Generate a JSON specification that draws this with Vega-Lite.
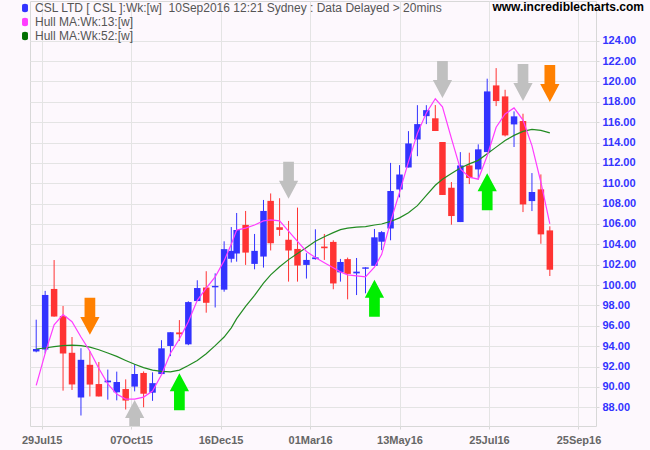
{
  "$schema": "https://vega.github.io/schema/vega-lite/v6.json",
  "width": 566,
  "height": 425,
  "autosize": "none",
  "padding": {"left": 30, "top": 1, "right": 54, "bottom": 24},
  "background": "#fdf8fd",
  "config": {"view": {"stroke": "#d8d8d8"}, "font": "Liberation Sans", "axis": {"labelOverlap": false}, "axisY": {"labelOverlap": false}},
  "title": {"text": "www.incrediblecharts.com", "anchor": "end", "frame": "group", "orient": "top", "offset": -14, "baseline": "bottom", "dx": 48, "dy": 11, "fontSize": 12, "fontWeight": "bold", "color": "#000000", "font": "Liberation Sans"},
  "datasets": {
    "bars": [
      {"t": -3, "o": 93.48, "h": 96.6, "l": 93.4, "c": 93.72, "a": 90.15, "b": 93.72},
      {"t": 2, "o": 93.67, "h": 99.43, "l": 93.3, "c": 99.03, "a": 93.3, "b": 93.82},
      {"t": 7, "o": 99.62, "h": 102.46, "l": 96.9, "c": 96.91, "a": 96.1, "b": 93.95},
      {"t": 12, "o": 96.95, "h": 97.95, "l": 89.63, "c": 93.28, "a": 97.1, "b": 94.05},
      {"t": 17, "o": 93.35, "h": 94.9, "l": 89.7, "c": 90.24, "a": 96.4, "b": 94.1},
      {"t": 22, "o": 88.96, "h": 93.8, "l": 87.19, "c": 92.66, "a": 94.9, "b": 94.05},
      {"t": 27, "o": 92.17, "h": 93.5, "l": 89.06, "c": 90.23, "a": 93.5, "b": 93.9},
      {"t": 32, "o": 90.28, "h": 92.45, "l": 89.06, "c": 89.06, "a": 91.8, "b": 93.65},
      {"t": 37, "o": 90.45, "h": 91.7, "l": 88.75, "c": 90.62, "a": 90.3, "b": 93.33},
      {"t": 42, "o": 89.47, "h": 91.5, "l": 88.68, "c": 90.48, "a": 89.3, "b": 93.0},
      {"t": 47, "o": 89.79, "h": 90.74, "l": 87.78, "c": 88.66, "a": 88.8, "b": 92.6},
      {"t": 52, "o": 90.03, "h": 92.22, "l": 89.56, "c": 91.27, "a": 88.8, "b": 92.22},
      {"t": 57, "o": 91.37, "h": 91.52, "l": 88.0, "c": 89.33, "a": 89.0, "b": 91.9},
      {"t": 62, "o": 89.43, "h": 91.43, "l": 88.63, "c": 90.37, "a": 89.6, "b": 91.65},
      {"t": 67, "o": 91.26, "h": 94.59, "l": 91.26, "c": 93.79, "a": 91.2, "b": 91.52},
      {"t": 72, "o": 94.02, "h": 95.37, "l": 93.02, "c": 95.37, "a": 93.3, "b": 91.47},
      {"t": 77, "o": 95.35, "h": 96.56, "l": 94.52, "c": 95.17, "a": 94.7, "b": 91.65},
      {"t": 82, "o": 94.18, "h": 98.41, "l": 94.1, "c": 98.33, "a": 96.4, "b": 92.1},
      {"t": 87, "o": 98.43, "h": 100.47, "l": 98.43, "c": 99.71, "a": 98.5, "b": 92.6},
      {"t": 92, "o": 99.76, "h": 101.36, "l": 97.29, "c": 98.26, "a": 99.7, "b": 93.25},
      {"t": 97, "o": 99.78, "h": 101.15, "l": 97.8, "c": 99.92, "a": 100.8, "b": 94.05},
      {"t": 102, "o": 99.55, "h": 104.3, "l": 99.35, "c": 103.53, "a": 102.4, "b": 94.9},
      {"t": 106, "o": 102.58, "h": 105.7, "l": 102.22, "c": 103.36, "a": 104.0, "b": 95.8},
      {"t": 109, "o": 103.1, "h": 107.08, "l": 102.3, "c": 105.41, "a": 105.4, "b": 96.7},
      {"t": 114, "o": 105.91, "h": 107.28, "l": 101.98, "c": 103.19, "a": 105.6, "b": 97.9},
      {"t": 119, "o": 102.08, "h": 105.02, "l": 101.55, "c": 103.36, "a": 105.9, "b": 99.0},
      {"t": 124, "o": 102.8, "h": 108.36, "l": 101.72, "c": 107.28, "a": 106.3, "b": 100.2},
      {"t": 128, "o": 108.27, "h": 109.0, "l": 103.4, "c": 104.11, "a": 106.4, "b": 101.0},
      {"t": 133, "o": 105.68, "h": 108.53, "l": 104.83, "c": 105.42, "a": 106.3, "b": 101.8},
      {"t": 138, "o": 104.44, "h": 106.3, "l": 100.34, "c": 103.39, "a": 105.3, "b": 102.5},
      {"t": 143, "o": 103.55, "h": 107.61, "l": 100.34, "c": 101.92, "a": 104.3, "b": 103.1},
      {"t": 148, "o": 101.98, "h": 103.13, "l": 100.64, "c": 102.47, "a": 103.3, "b": 103.7},
      {"t": 153, "o": 102.55, "h": 105.48, "l": 102.5, "c": 102.72, "a": 102.7, "b": 104.3},
      {"t": 158, "o": 103.78, "h": 105.02, "l": 102.47, "c": 103.62, "a": 102.2, "b": 104.75},
      {"t": 163, "o": 104.24, "h": 104.4, "l": 99.59, "c": 100.16, "a": 101.7, "b": 105.15},
      {"t": 167, "o": 101.25, "h": 102.57, "l": 100.34, "c": 102.27, "a": 101.3, "b": 105.45},
      {"t": 171, "o": 102.55, "h": 102.7, "l": 98.6, "c": 101.1, "a": 101.0, "b": 105.6},
      {"t": 176, "o": 101.15, "h": 102.66, "l": 99.02, "c": 101.32, "a": 100.9, "b": 105.7},
      {"t": 181, "o": 101.6, "h": 101.75, "l": 99.19, "c": 101.74, "a": 100.8, "b": 105.75},
      {"t": 186, "o": 101.89, "h": 105.51, "l": 101.89, "c": 104.69, "a": 101.75, "b": 105.9},
      {"t": 190, "o": 104.26, "h": 105.3, "l": 103.43, "c": 105.2, "a": 103.0, "b": 106.0},
      {"t": 195, "o": 105.56, "h": 112.0, "l": 104.4, "c": 109.24, "a": 106.2, "b": 106.25},
      {"t": 200, "o": 109.39, "h": 111.78, "l": 108.61, "c": 110.86, "a": 109.1, "b": 106.6},
      {"t": 205, "o": 111.55, "h": 115.12, "l": 111.55, "c": 113.91, "a": 112.1, "b": 107.1},
      {"t": 210, "o": 114.3, "h": 117.67, "l": 112.66, "c": 115.81, "a": 114.9, "b": 107.8},
      {"t": 215, "o": 116.59, "h": 117.67, "l": 115.81, "c": 117.18, "a": 116.9, "b": 108.8},
      {"t": 220, "o": 116.38, "h": 117.68, "l": 115.13, "c": 115.13, "a": 118.3, "b": 109.8},
      {"t": 224, "o": 114.05, "h": 114.05, "l": 108.85, "c": 108.85, "a": 117.5, "b": 110.4},
      {"t": 229, "o": 109.56, "h": 110.12, "l": 105.93, "c": 106.78, "a": 114.4, "b": 110.95},
      {"t": 234, "o": 106.19, "h": 113.06, "l": 106.19, "c": 111.75, "a": 111.4, "b": 111.5},
      {"t": 239, "o": 111.75, "h": 113.0, "l": 109.92, "c": 110.51, "a": 110.6, "b": 111.9},
      {"t": 244, "o": 111.36, "h": 113.82, "l": 110.38, "c": 113.33, "a": 110.4, "b": 112.25},
      {"t": 249, "o": 113.06, "h": 120.27, "l": 113.06, "c": 119.02, "a": 112.7, "b": 112.9},
      {"t": 254, "o": 119.61, "h": 121.31, "l": 117.58, "c": 118.07, "a": 115.5, "b": 113.55},
      {"t": 259, "o": 118.53, "h": 119.18, "l": 114.6, "c": 114.7, "a": 116.8, "b": 114.2},
      {"t": 264, "o": 115.78, "h": 117.06, "l": 113.56, "c": 116.57, "a": 117.4, "b": 114.7},
      {"t": 269, "o": 116.11, "h": 116.83, "l": 107.17, "c": 107.92, "a": 116.2, "b": 115.1},
      {"t": 274, "o": 108.25, "h": 111.0, "l": 107.27, "c": 109.14, "a": 113.7, "b": 115.3},
      {"t": 279, "o": 109.4, "h": 110.87, "l": 104.06, "c": 104.98, "a": 110.1, "b": 115.2},
      {"t": 284, "o": 105.37, "h": 105.77, "l": 100.89, "c": 101.51, "a": 106.0, "b": 114.95}
    ],
    "signals": [
      {"t": 27, "y": 96.93, "dir": "down", "sig": "Sell"},
      {"t": 52, "y": 86.9, "dir": "up", "sig": "Watch"},
      {"t": 77, "y": 89.53, "dir": "up", "sig": "Buy"},
      {"t": 138, "y": 110.3, "dir": "down", "sig": "Watch"},
      {"t": 186, "y": 98.7, "dir": "up", "sig": "Buy"},
      {"t": 224, "y": 120.2, "dir": "down", "sig": "Watch"},
      {"t": 249, "y": 109.17, "dir": "up", "sig": "Buy"},
      {"t": 269, "y": 119.9, "dir": "down", "sig": "Watch"},
      {"t": 284, "y": 119.8, "dir": "down", "sig": "Sell"}
    ]
  },
  "encoding": {
    "x": {
      "field": "t", "type": "quantitative",
      "scale": {"domain": [-3.68, 307], "nice": false, "zero": false},
      "axis": {
        "title": null, "values": [0, 50, 100, 150, 200, 250, 300],
        "labelExpr": "['29Jul15','07Oct15','16Dec15','01Mar16','13May16','25Jul16','25Sep16'][round(datum.value/50)]",
        "domain": false, "grid": true, "gridColor": "#e4e4e4", "tickColor": "#d8d8d8", "tickSize": 3,
        "labelFont": "Liberation Sans", "labelFontSize": 11, "labelFontWeight": "bold", "labelColor": "#666666", "labelPadding": 5, "labelFlush": false, "labelOverlap": false
      }
    },
    "y": {
      "field": "l", "type": "quantitative",
      "scale": {"domain": [86.16, 127.9], "nice": false, "zero": false},
      "axis": {
        "title": null, "orient": "right", "values": [88, 90, 92, 94, 96, 98, 100, 102, 104, 106, 108, 110, 112, 114, 116, 118, 120, 122, 124],
        "format": ".2f", "domain": false, "grid": true, "gridColor": "#e4e4e4", "tickColor": "#d8d8d8", "tickSize": 3,
        "labelFont": "Liberation Sans", "labelFontSize": 11, "labelFontWeight": "bold", "labelColor": "#3333ff", "labelPadding": 3, "labelOverlap": false
      }
    }
  },
  "layer": [
    {
      "data": {"name": "bars"},
      "mark": {"type": "rule", "strokeWidth": 1},
      "encoding": {
        "y2": {"field": "h"},
        "color": {"condition": {"test": "datum.c >= datum.o", "value": "#3333ff"}, "value": "#ff3333"}
      }
    },
    {
      "data": {"name": "bars"},
      "mark": {"type": "bar", "width": 6.5},
      "encoding": {
        "y": {"field": "o", "type": "quantitative"},
        "y2": {"field": "c"},
        "color": {"condition": {"test": "datum.c >= datum.o", "value": "#3333ff"}, "value": "#ff3333"}
      }
    },
    {
      "data": {"name": "bars"},
      "transform": [{"fold": ["b", "a"], "as": ["series", "v"]}],
      "mark": {"type": "line", "strokeWidth": 1.2},
      "encoding": {
        "y": {"field": "v", "type": "quantitative"},
        "color": {
          "field": "series", "type": "nominal",
          "scale": {"domain": ["csl", "a", "b"], "range": ["#3333ff", "#ff3cff", "#228b22"]},
          "legend": {
            "title": null, "orient": "none", "legendX": -11, "legendY": 1,
            "symbolType": "M-0.7,-0.55Q-0.7,-1 0,-1Q0.7,-1 0.7,-0.55L0.7,0.55Q0.7,1 0,1Q-0.7,1 -0.7,0.55Z",
            "symbolSize": 72, "symbolStrokeWidth": 0, "labelFont": "Liberation Sans", "labelFontSize": 12, "labelColor": "#555555",
            "labelLimit": 600, "rowPadding": 2, "labelOffset": 4,
            "labelExpr": "datum.label == 'csl' ? 'CSL LTD [ CSL ]:Wk:[w]\u00a0 10Sep2016 12:21 Sydney : Data Delayed > 20mins' : datum.label == 'a' ? 'Hull MA:Wk:13:[w]' : 'Hull MA:Wk:52:[w]'",
            "encode": {"symbols": {"update": {"fill": {"signal": "datum.value == 'csl' ? '#3333ff' : datum.value == 'a' ? '#ff3cff' : '#006e00'"}, "stroke": {"value": "transparent"}}}}
          }
        }
      }
    },
    {
      "data": {"name": "signals"},
      "mark": {"type": "point", "filled": true, "size": 1369, "opacity": 1, "strokeWidth": 0, "clip": true},
      "encoding": {
        "y": {"field": "y", "type": "quantitative"},
        "shape": {"field": "dir", "type": "nominal", "scale": {"domain": ["down", "up"], "range": ["M-0.29,-1L0.29,-1L0.29,0.03L0.52,0.03L0,1L-0.52,0.03L-0.29,0.03Z", "M-0.29,1L0.29,1L0.29,-0.03L0.52,-0.03L0,-1L-0.52,-0.03L-0.29,-0.03Z"]}, "legend": null},
        "color": {"field": "sig", "type": "nominal", "scale": {"domain": ["Sell", "Watch", "Buy"], "range": ["#ff8000", "#c0c0c0", "#00ee00"]}, "legend": null}
      }
    }
  ],
  "resolve": {"scale": {"color": "independent"}}
}
